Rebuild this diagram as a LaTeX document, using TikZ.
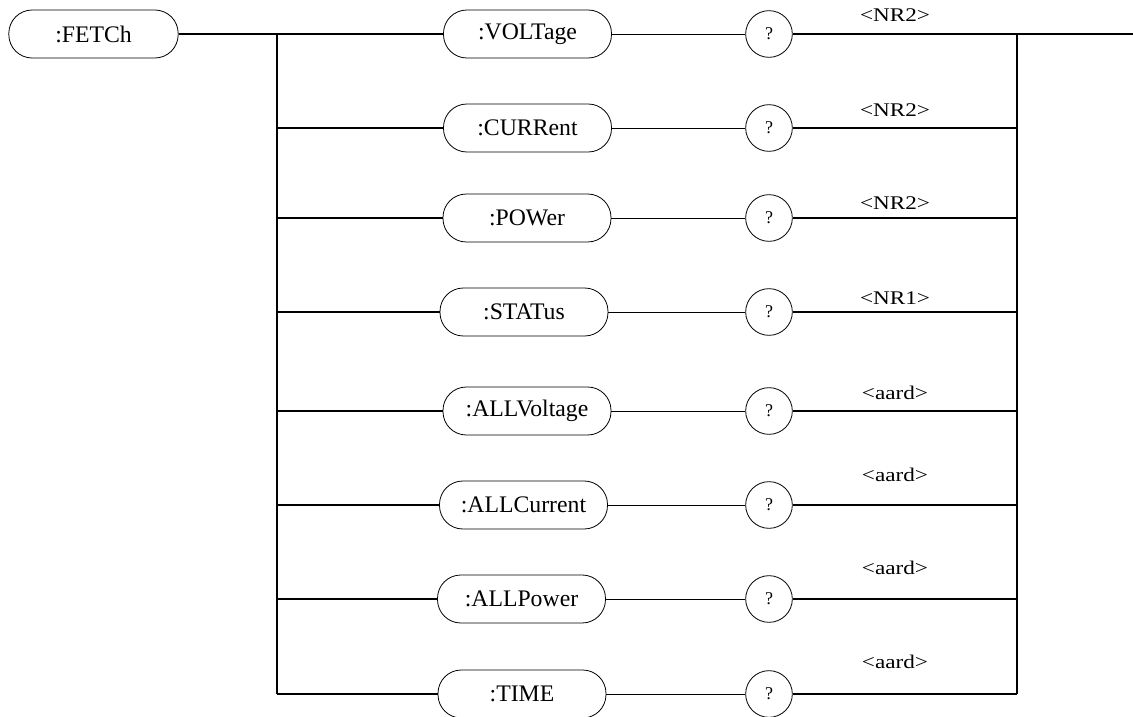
\documentclass[tikz,border=0pt]{standalone}
\usepackage{fontspec}
\setmainfont{Liberation Serif}
\usetikzlibrary{positioning}
\tikzset{
  cmdbox/.style={draw,line width=0.6pt,rounded corners=17.5pt,minimum width=126pt,minimum height=36pt,inner sep=0pt,font=\fontsize{17.8}{20}\selectfont},
  qmark/.style={draw,line width=0.6pt,circle,minimum size=35pt,inner sep=0pt,font=\fontsize{13.5}{15}\selectfont},
  retlbl/.style={font=\fontsize{14.5}{17}\selectfont,inner sep=1pt},
  bus/.style={line width=0.9pt}
}
\begin{document}
\begin{tikzpicture}[x=0.75pt,y=-0.75pt]
\useasboundingbox (0,0) rectangle (1133,717);
\node[cmdbox,minimum width=127pt] (fetch) at (93.5,34) {:FETCh};
\coordinate (lt) at (277,34);
\coordinate (lb) at (277,694);
\coordinate (rt) at (1017,34);
\coordinate (rb) at (1017,694);
\coordinate (out) at (1133,34);
\draw[bus] (fetch) -- (lt);
\draw[bus] (rt) -- (out);
\draw[bus] (lt) -- (lb);
\draw[bus] (rt) -- (rb);
\foreach \y/\xc/\cmd/\ret/\ly [count=\i] in {34/527.5/VOLTage/NR2/15, 128/527.5/CURRent/NR2/110, 218/527/POWer/NR2/203, 312/524/STATus/NR1/298, 411/527/ALLVoltage/aard/393, 505/523.5/ALLCurrent/aard/475, 599/521.5/ALLPower/aard/568, 694/522/TIME/aard/662}{
  \node[cmdbox] (c\i) at (\xc,\y) {:\cmd};
  \node[qmark] (q\i) at (769,\y) {?};
  \coordinate (l\i) at (277,\y);
  \coordinate (r\i) at (1017,\y);
  \draw[bus] (l\i) -- (c\i);
  \draw (c\i) -- (q\i);
  \draw[bus] (q\i) -- (r\i);
  \node[retlbl] (n\i) at (895,\ly) {\scalebox{1.2}[1]{<\ret>}};
}
\draw[line width=2pt] (963,128) -- (977,128);
\end{tikzpicture}
\end{document}
